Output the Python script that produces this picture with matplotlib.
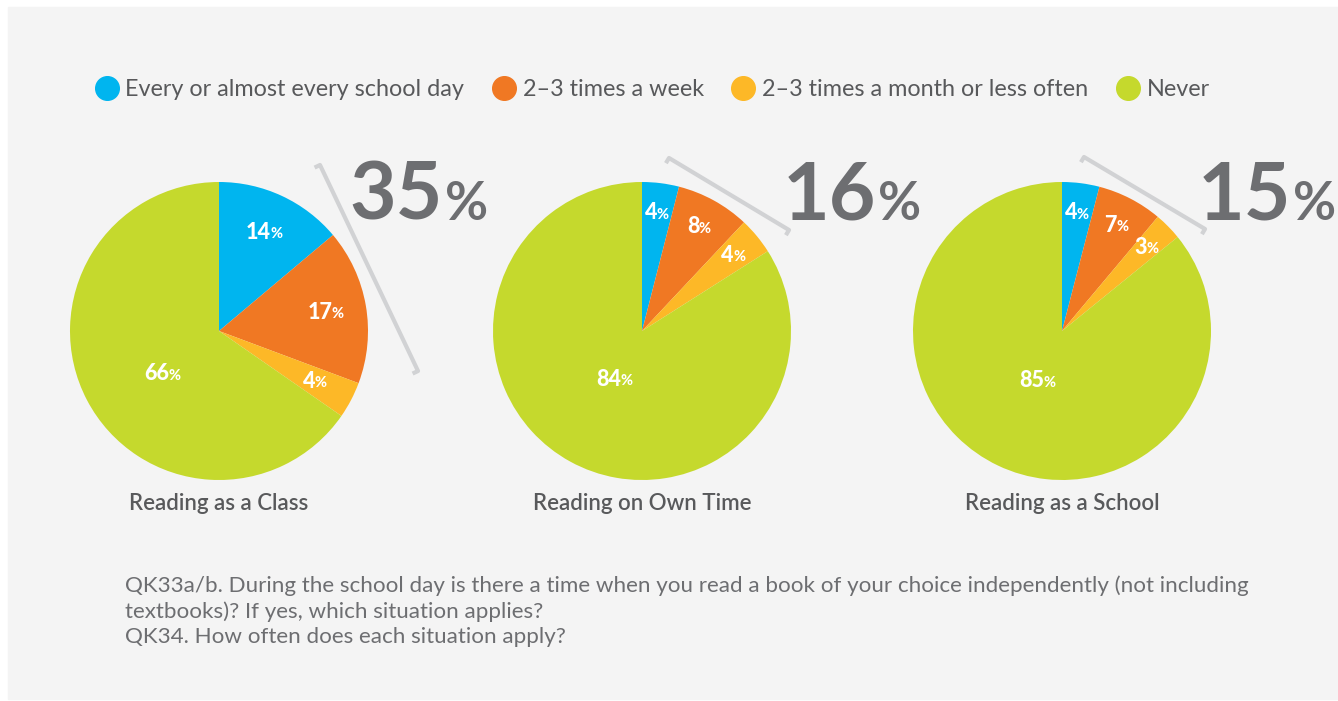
import matplotlib
matplotlib.use('Agg')
import matplotlib.pyplot as plt
from matplotlib.lines import Line2D
from matplotlib.patches import Rectangle
import numpy as np

plt.rcParams['font.family'] = ['Lato', 'DejaVu Sans']

# 数据
categories = ['Every or almost every school day', '2–3 times a week',
              '2–3 times a month or less often', 'Never']
colors = ['#00b5ef', '#f07823', '#fdb827', '#c5d92d']
titles = ['Reading as a Class', 'Reading on Own Time', 'Reading as a School']
class_vals = [14, 17, 4, 66]
own_vals = [4, 8, 4, 84]
school_vals = [4, 7, 3, 85]
totals = [35, 16, 15]
note = ('QK33a/b. During the school day is there a time when you read a book of your choice independently (not including\n'
        'textbooks)? If yes, which situation applies?\n'
        'QK34. How often does each situation apply?')

W, H = 1338, 701
fig = plt.figure(figsize=(W / 100, H / 100), dpi=100)
fig.patch.set_facecolor('white')
ax = fig.add_axes([0, 0, 1, 1])

def Y(y):  # 像素坐标 (y 向下) 转换为数据坐标
    return H - y

ax.add_patch(Rectangle((8, Y(699)), W - 8, 692, color='#f4f4f4', zorder=0))

grey = '#6d6e71'
text_grey = '#58595b'
centers = [(219, 331), (642, 331), (1062, 331)]
radius = 149
small_r = [0.73, 0.8, 0.8]   # 小扇形标签半径
big_r = [0.5, 0.37, 0.37]    # Never 扇形标签半径
big_x = [443, 876, 1291]     # 大数字 锚点
brackets = [((320, 165), (418, 371)), ((669, 158), (789, 230)), ((1084, 157), (1205, 229))]

for k, vals in enumerate([class_vals, own_vals, school_vals]):
    cx, cy = centers[k]
    wedges, _ = ax.pie(vals, colors=colors, startangle=90, counterclock=False,
                       center=(cx, Y(cy)), radius=radius, frame=True,
                       wedgeprops=dict(linewidth=0))
    for j, w in enumerate(wedges):
        ang = np.deg2rad((w.theta1 + w.theta2) / 2)
        r = (big_r[k] if j == len(vals) - 1 else small_r[k]) * radius
        x = cx + r * np.cos(ang)
        y = Y(cy) + r * np.sin(ang)
        if k == 0 and j == len(vals) - 1:
            x, y = x + 10, y - 8
        s = str(vals[j])
        off = 6 if len(s) == 2 else 0
        ax.text(x + off, y, s, ha='right', va='center', color='white',
                fontsize=15.5, fontweight='black', zorder=5)
        ax.text(x + off - 0.5, y - 2, '%', ha='left', va='center', color='white',
                fontsize=10.5, fontweight='black', zorder=5)
    ax.text(cx, Y(504), titles[k], ha='center', va='center', color=text_grey,
            fontsize=16, fontweight='semibold')
    # 括号线
    (x1, y1), (x2, y2) = brackets[k]
    d = np.array([x2 - x1, y2 - y1], float)
    d /= np.hypot(*d)
    p = np.array([-d[1], d[0]]) if d[1] > 0 else np.array([d[1], -d[0]])
    if p[0] > 0:
        p = -p
    t = 6
    xs = [x1 + p[0] * t, x1, x2, x2 + p[0] * t]
    ys = [Y(y1 + p[1] * t), Y(y1), Y(y2), Y(y2 + p[1] * t)]
    ax.plot(xs, ys, color='#d1d2d4', lw=3, solid_capstyle='butt', zorder=3)
    # 大数字
    ax.text(big_x[k], Y(220), str(totals[k]), ha='right', va='baseline',
            color=grey, fontsize=58, fontweight='bold')
    ax.text(big_x[k] + 2, Y(220), '%', ha='left', va='baseline',
            color=grey, fontsize=38, fontweight='bold')

handles = [Line2D([], [], marker='o', ls='', markersize=17, color=c) for c in colors]
ax.legend(handles, categories, loc='center', bbox_to_anchor=(650 / W, 1 - 90 / H),
          ncol=4, frameon=False, handletextpad=0.1,
          columnspacing=1.0, labelcolor=text_grey, handlelength=1.4,
          prop=dict(size=16.8, weight='normal'))

ax.text(125, Y(575), note, ha='left', va='top', color=grey, fontsize=16.1,
        fontweight='normal', linespacing=1.33)

ax.set_xlim(0, W)
ax.set_ylim(0, H)
ax.set_aspect('equal')
ax.axis('off')

plt.savefig('out.png', dpi=100, facecolor=fig.get_facecolor())
